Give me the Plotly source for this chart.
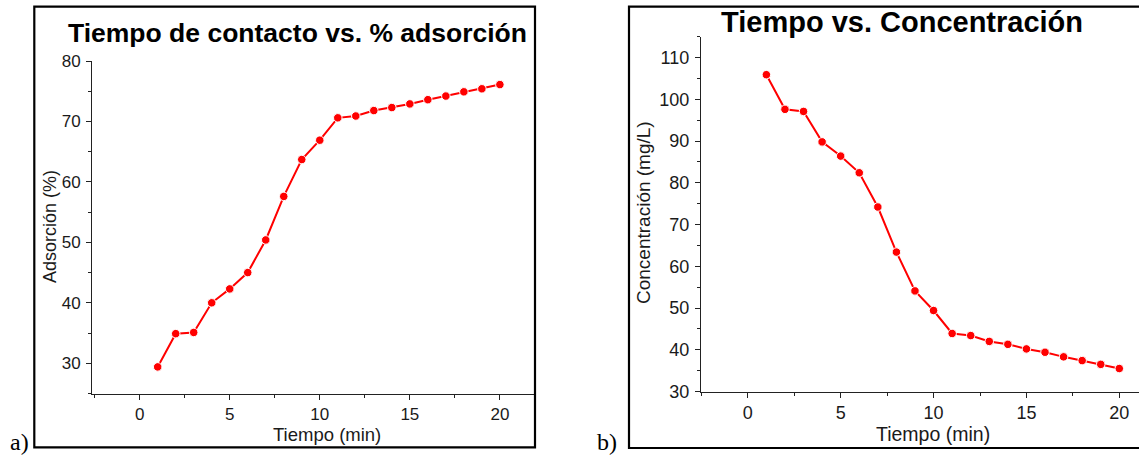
import plotly.graph_objects as go

W, H = 1139, 457

tiempo = [1, 2, 3, 4, 5, 6, 7, 8, 9, 10, 11, 12, 13, 14, 15, 16, 17, 18, 19, 20]
adsorcion = [29.4, 34.9, 35.1, 40.0, 42.3, 45.0, 50.4, 57.6, 63.7, 66.9,
             70.6, 70.9, 71.8, 72.3, 72.9, 73.6, 74.2, 74.9, 75.4, 76.1]
concentracion = [105.9, 97.6, 97.1, 89.8, 86.4, 82.4, 74.2, 63.4, 54.1, 49.4,
                 43.9, 43.4, 42.0, 41.3, 40.2, 39.4, 38.3, 37.4, 36.5, 35.5]

title_a = "Tiempo de contacto vs. % adsorción"
title_b = "Tiempo vs. Concentración"
xlabel = "Tiempo (min)"
ylabel_a = "Adsorción (%)"
ylabel_b = "Concentración (mg/L)"


def px(x):
    return x / W


def py(y):
    return 1 - y / H


FONT = "Liberation Sans, Arial, sans-serif"
RED = "#ff0000"
AX = "#222222"
TXT = "#1a1a1a"

fig = go.Figure()

marker = dict(size=8.5, color=RED, line=dict(color="white", width=1))
fig.add_trace(go.Scatter(x=tiempo, y=adsorcion, mode="lines+markers",
                         line=dict(color=RED, width=2), marker=marker,
                         xaxis="x", yaxis="y", showlegend=False))
fig.add_trace(go.Scatter(x=tiempo, y=concentracion, mode="lines+markers",
                         line=dict(color=RED, width=2), marker=marker,
                         xaxis="x2", yaxis="y2", showlegend=False))


def xax(domain, rng, fs):
    return dict(domain=domain, range=rng, automargin=False, showgrid=False, zeroline=False,
                showline=True, linecolor=AX, linewidth=1.3, mirror=False,
                ticks="outside", ticklen=5, tickwidth=1.2, tickcolor=AX,
                tick0=0, dtick=5, tickfont=dict(family=FONT, size=fs, color=TXT),
                minor=dict(dtick=2.5, ticks="outside", ticklen=3, tickwidth=1.2, tickcolor=AX))


def yax(domain, rng, fs, dt, t0):
    return dict(domain=domain, range=rng, automargin=False, showgrid=False, zeroline=False,
                showline=True, linecolor=AX, linewidth=1.3,
                ticks="outside", ticklen=5, tickwidth=1.2, tickcolor=AX,
                tick0=t0, dtick=dt, tickfont=dict(family=FONT, size=fs, color=TXT),
                ticklabelstandoff=2,
                minor=dict(dtick=5, ticks="outside", ticklen=3, tickwidth=1.2, tickcolor=AX))


xa = xax([px(92.3), px(535)], [-2.63, 21.95], 17)
xa["anchor"] = "y"
ya = yax([py(393.5), py(61)], [25, 80], 17, 10, 0)
ya["anchor"] = "x"

xb = xax([px(701), 1.0], [-2.52, 21.06], 18)
xb["anchor"] = "y2"
yb = yax([py(391.5), py(36.7)], [30, 115], 18, 10, 0)
yb["anchor"] = "x2"

fig.update_layout(
    width=W, height=H, margin=dict(l=0, r=0, t=0, b=0, pad=0), autosize=False,
    paper_bgcolor="white", plot_bgcolor="white",
    xaxis=xa, yaxis=ya, xaxis2=xb, yaxis2=yb,
    font=dict(family=FONT),
)

# panel frames
fig.add_shape(type="rect", xref="paper", yref="paper",
              x0=px(34.3), x1=px(535), y0=py(447.3), y1=py(6.7),
              line=dict(color="black", width=2.2), layer="above")
fig.add_shape(type="rect", xref="paper", yref="paper",
              x0=px(629), x1=px(1145), y0=py(448), y1=py(6.7),
              line=dict(color="black", width=2.2), layer="above")

# titles
fig.add_annotation(text="<b>" + title_a + "</b>", xref="paper", yref="paper",
                   x=px(297), y=py(50), xanchor="center", yanchor="bottom",
                   showarrow=False, font=dict(family=FONT, size=26.5, color="black"))
fig.add_annotation(text="<b>" + title_b + "</b>", xref="paper", yref="paper",
                   x=px(902), y=py(40), xanchor="center", yanchor="bottom",
                   showarrow=False, font=dict(family=FONT, size=29, color="black"))

# axis titles
fig.add_annotation(text=xlabel, xref="paper", yref="paper", x=px(327), y=py(434),
                   xanchor="center", yanchor="middle", showarrow=False,
                   font=dict(family=FONT, size=18.5, color=TXT))
fig.add_annotation(text=xlabel, xref="paper", yref="paper", x=px(933), y=py(434),
                   xanchor="center", yanchor="middle", showarrow=False,
                   font=dict(family=FONT, size=19.5, color=TXT))
fig.add_annotation(text=ylabel_a, xref="paper", yref="paper", x=px(50), y=py(227),
                   xanchor="center", yanchor="middle", textangle=-90, showarrow=False,
                   font=dict(family=FONT, size=18, color=TXT))
fig.add_annotation(text=ylabel_b, xref="paper", yref="paper", x=px(643), y=py(213),
                   xanchor="center", yanchor="middle", textangle=-90, showarrow=False,
                   font=dict(family=FONT, size=19, color=TXT))

# panel letters
for lab, xpos in (("a)", 8), ("b)", 595)):
    fig.add_annotation(text=lab, xref="paper", yref="paper",
                       x=px(xpos), y=py(457), xanchor="left", yanchor="bottom",
                       showarrow=False,
                       font=dict(family="Liberation Serif, Times New Roman, serif", size=24, color="black"))

fig.write_html("out.html", config={"displayModeBar": False, "responsive": False},
               post_script="document.body.style.margin='0';")
